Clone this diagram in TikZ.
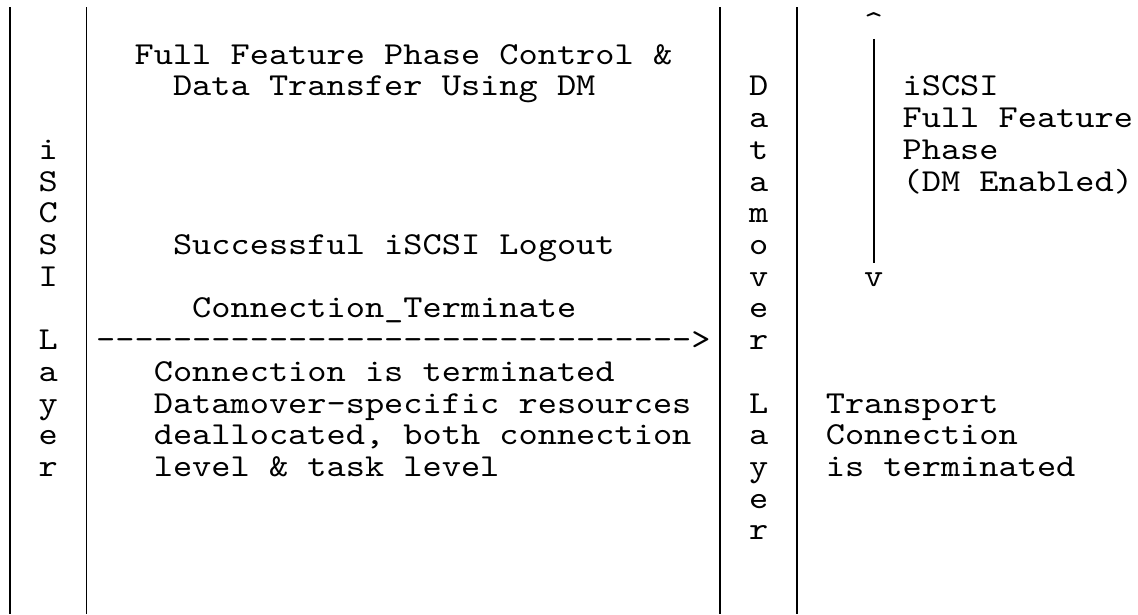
\documentclass[tikz,border=0pt]{standalone}
\usepackage{fontspec}
\setmonofont{lmmono10-regular.otf}[FakeStretch=1.1429]
\begin{document}
\begin{tikzpicture}[x=19.2pt,y=-31.7pt,
  t/.style={font=\ttfamily\fontsize{32}{32}\selectfont, inner sep=0pt, anchor=base west, text=black},
  bar/.style={line width=1.8pt, draw=black}]
\useasboundingbox (0,0) rectangle (59.27,19.37);
\def\b{1.0284}
% lane separators
\foreach \c/\n in {0.5/la,4.5/lb,37.5/lc,41.5/ld}{
  \coordinate (\n-top) at (\c,0.221);
  \coordinate (\n-bot) at (\c,19.37);
  \draw[bar] (\n-top) -- (\n-bot);
}
% vertical layer labels
\foreach \ch [count=\i from 0] in {i,S,C,S,I}
  \node[t] (isc\i) at (2,4+\i+\b) {\ch};
\foreach \ch [count=\i from 0] in {L,a,y,e,r}
  \node[t] (lay\i) at (2,10+\i+\b) {\ch};
\foreach \ch [count=\i from 0] in {D,a,t,a,m,o,v,e,r}
  \node[t] (dm\i) at (39,2+\i+\b) {\ch};
\foreach \ch [count=\i from 0] in {L,a,y,e,r}
  \node[t] (dml\i) at (39,12+\i+\b) {\ch};
% middle lane texts
\node[t] (full) at (7,1+\b) {Full Feature Phase Control \&};
\node[t] (data) at (9,2+\b) {Data Transfer Using DM};
\node[t] (logout) at (9,7+\b) {Successful iSCSI Logout};
\node[t] (ct) at (10,9+\b) {Connection\_Terminate};
\node[t] (arrow) at (5,10+\b) {-------------------------------\textgreater};
\node[t] (r1) at (8,11+\b) {Connection is terminated};
\node[t] (r2) at (8,12+\b) {Datamover-specific resources};
\node[t] (r3) at (8,13+\b) {deallocated, both connection};
\node[t] (r4) at (8,14+\b) {level \& task level};
% right side
\node[t] (up) at (45,0+\b) {\textasciicircum};
\node[t] (dn) at (45,8+\b) {v};
\coordinate (ar-top) at (45.5,1.23);
\coordinate (ar-bot) at (45.5,8.30);
\draw[bar] (ar-top) -- (ar-bot);
\node[t] (ff1) at (47,2+\b) {iSCSI};
\node[t] (ff2) at (47,3+\b) {Full Feature};
\node[t] (ff3) at (47,4+\b) {Phase};
\node[t] (ff4) at (47,5+\b) {(DM Enabled)};
\node[t] (tc1) at (43,12+\b) {Transport};
\node[t] (tc2) at (43,13+\b) {Connection};
\node[t] (tc3) at (43,14+\b) {is terminated};
\end{tikzpicture}
\end{document}
